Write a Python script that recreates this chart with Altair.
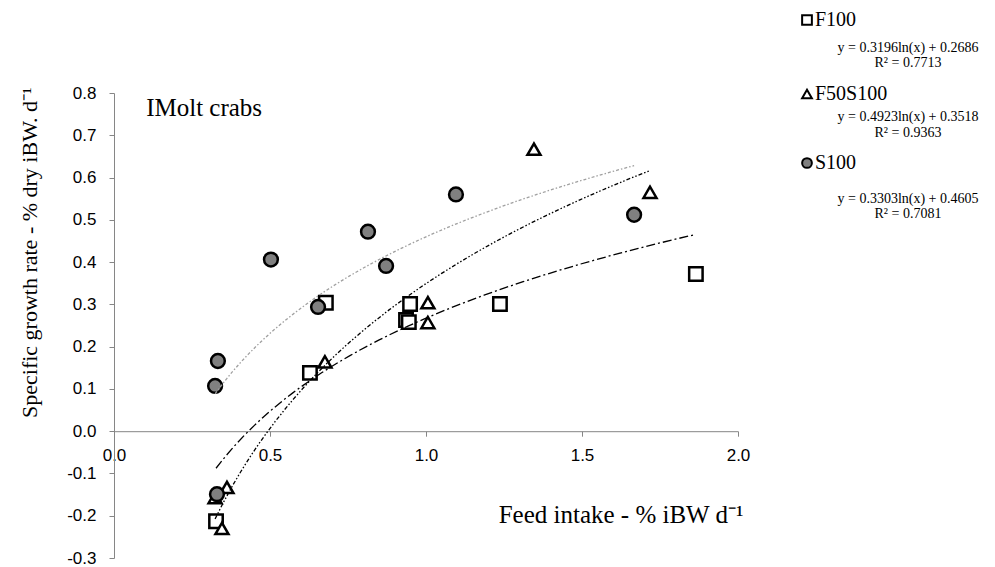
import altair as alt
import pandas as pd

# ---- data ----
series_names = ["F100", "F50S100", "S100"]

f100_x = [0.327, 0.628, 0.679, 0.936, 0.945, 0.949, 1.237, 1.865]
f100_y = [-0.213, 0.138, 0.304, 0.263, 0.258, 0.301, 0.301, 0.372]

f50_x = [0.324, 0.346, 0.362, 0.676, 1.006, 1.006, 1.346, 1.718]
f50_y = [-0.157, -0.230, -0.133, 0.164, 0.257, 0.304, 0.667, 0.565]

s100_x = [0.330, 0.324, 0.333, 0.503, 0.654, 0.814, 0.872, 1.096, 1.667]
s100_y = [-0.149, 0.107, 0.166, 0.406, 0.294, 0.472, 0.391, 0.560, 0.512]

equations = [
    "y = 0.3196ln(x) + 0.2686",
    "y = 0.4923ln(x) + 0.3518",
    "y = 0.3303ln(x) + 0.4605",
]
r2_labels = ["R² = 0.7713", "R² = 0.9363", "R² = 0.7081"]

x_ticks = [0.0, 0.5, 1.0, 1.5, 2.0]
y_ticks = [-0.3, -0.2, -0.1, 0.0, 0.1, 0.2, 0.3, 0.4, 0.5, 0.6, 0.7, 0.8]

rows = []
for name, xs, ys in zip(series_names, [f100_x, f50_x, s100_x], [f100_y, f50_y, s100_y]):
    for a, b in zip(xs, ys):
        rows.append({"series": name, "intake": a, "sgr": b})
df = pd.DataFrame(rows)

AXIS_GRAY = "#868686"
SERIF = "Liberation Serif"
SANS = "Liberation Sans"

xscale = alt.Scale(domain=[0, 2], nice=False, zero=False)
yscale = alt.Scale(domain=[-0.3, 0.8], nice=False, zero=False)

xaxis = alt.Axis(
    values=x_ticks, format=".1f", offset=-126.8, grid=False,
    domainColor=AXIS_GRAY, tickColor=AXIS_GRAY, tickSize=5,
    labelFont=SANS, labelFontSize=17, labelColor="black", labelPadding=11,
    labelFlush=False,
    title="Feed intake - % iBW d⁻¹", titleFont=SERIF, titleFontSize=25,
    titleFontWeight="normal", titleColor="black",
    titleX=629, titleY=91, titleAlign="right", titleBaseline="alphabetic",
)
yaxis = alt.Axis(
    values=y_ticks, grid=False,
    labelExpr="(datum.value < 0 ? '-' : '') + format(abs(datum.value), '.1f')",
    domainColor=AXIS_GRAY, tickColor=AXIS_GRAY, tickSize=5,
    labelFont=SANS, labelFontSize=17, labelColor="black", labelPadding=13,
    title="Specific growth rate - % dry iBW. d⁻¹", titleFont=SERIF, titleFontSize=22,
    titleFontWeight="normal", titleColor="black",
    titleX=-85, titleY=-6, titleAlign="right", titleBaseline="middle", titleAngle=-90,
)

xenc = alt.X("intake:Q", scale=xscale, axis=xaxis)
yenc = alt.Y("sgr:Q", scale=yscale, axis=yaxis)

base = alt.Chart(df)

marker_style = {
    "F100": dict(shape="square", fill="white", size=180),
    "F50S100": dict(shape="triangle-up", fill="white", size=170),
    "S100": dict(shape="circle", fill="#808080", size=190),
}
trend_style = {
    "F100": dict(color="black", strokeDash=[9, 3, 2, 3]),
    "F50S100": dict(color="black", strokeDash=[4, 2, 1.5, 2, 1.5, 2]),
    "S100": dict(color="#a0a0a0", strokeDash=[3, 2, 1.5, 2]),
}

layers = []
for name in series_names:
    st = marker_style[name]
    layers.append(
        base.transform_filter(alt.datum.series == name)
        .mark_point(shape=st["shape"], filled=True, fill=st["fill"], stroke="black",
                    strokeWidth=2.5, size=st["size"], opacity=1, fillOpacity=1)
        .encode(x=xenc, y=yenc)
    )
for name in series_names:
    ts = trend_style[name]
    layers.append(
        base.transform_filter(alt.datum.series == name)
        .transform_regression("intake", "sgr", method="log")
        .mark_line(color=ts["color"], strokeDash=ts["strokeDash"], strokeWidth=1.3)
        .encode(x=xenc, y=yenc)
    )

dummy = pd.DataFrame({"k": [0]})

# panel annotation
layers.append(
    alt.Chart(dummy).mark_text(text="IMolt crabs", align="left", baseline="alphabetic",
                               font=SERIF, fontSize=25, color="black")
    .encode(x=alt.datum(0.103), y=alt.datum(0.745))
)

# manual legend (symbol, name, equation, R²)
legend_symbol_x = 693
legend_name_x = 701
legend_eq_x = 794
legend_rows_y = [-73, 1, 70]
eq_offsets = [(28, 43), (23, 39), (36, 51)]
for i, name in enumerate(series_names):
    st = marker_style[name]
    y0 = legend_rows_y[i]
    layers.append(
        alt.Chart(dummy).mark_point(shape=st["shape"], filled=True, fill=st["fill"], stroke="black",
                                    strokeWidth=2, size=95, opacity=1, fillOpacity=1)
        .encode(x=alt.value(legend_symbol_x), y=alt.value(y0))
    )
    layers.append(
        alt.Chart(dummy).mark_text(text=name, align="left", baseline="middle",
                                   font=SERIF, fontSize=20, color="black")
        .encode(x=alt.value(legend_name_x), y=alt.value(y0))
    )
    layers.append(
        alt.Chart(dummy).mark_text(text=equations[i], align="center", baseline="middle",
                                   font=SERIF, fontSize=14, color="black")
        .encode(x=alt.value(legend_eq_x), y=alt.value(y0 + eq_offsets[i][0]))
    )
    layers.append(
        alt.Chart(dummy).mark_text(text=r2_labels[i], align="center", baseline="middle",
                                   font=SERIF, fontSize=14, color="black")
        .encode(x=alt.value(legend_eq_x), y=alt.value(y0 + eq_offsets[i][1]))
    )

chart = (
    alt.layer(*layers)
    .properties(
        width=624, height=465,
        autosize=alt.AutoSizeParams(type="none"),
        padding={"left": 106, "top": 85, "right": 248, "bottom": 9},
        background="white",
    )
    .configure_view(strokeWidth=0)
)

chart.save("out.html", embed_options={"renderer": "svg", "actions": False})
